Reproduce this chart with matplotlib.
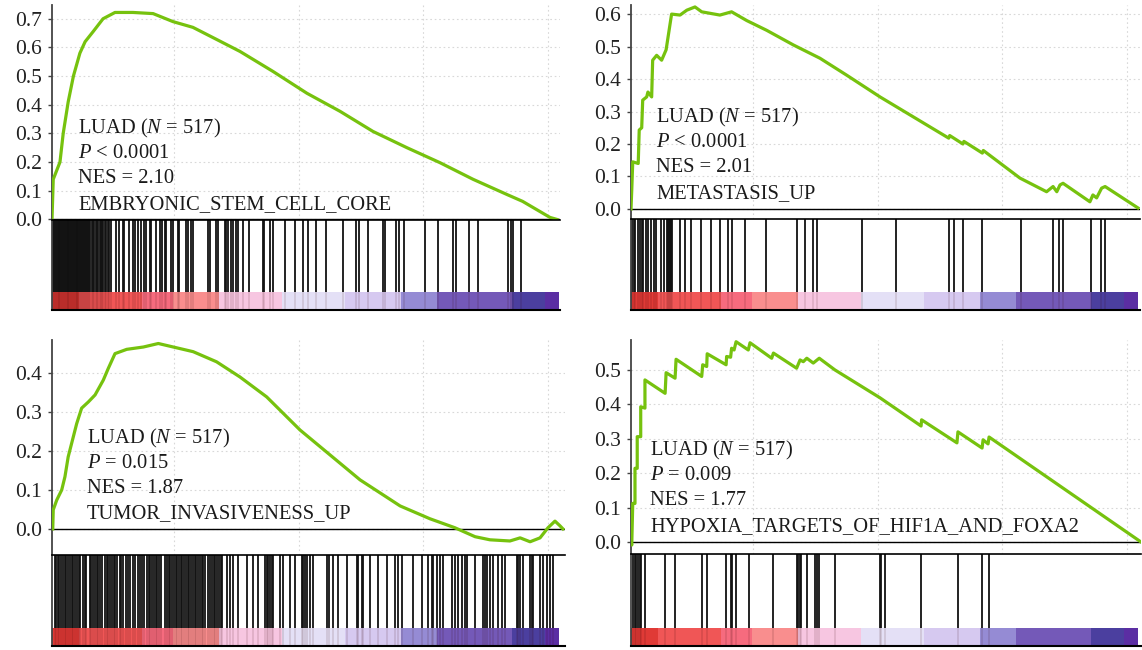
import matplotlib
matplotlib.use("Agg")
import matplotlib.pyplot as plt

W, H = 1142, 650

plt.rcParams["font.family"] = ["Liberation Serif", "DejaVu Serif"]
plt.rcParams["mathtext.fontset"] = "custom"
plt.rcParams["mathtext.rm"] = "Liberation Serif"
plt.rcParams["mathtext.it"] = "Liberation Serif:italic"

# ranked gene list position in thousands of genes
# ---- EMBRYONIC_STEM_CELL_CORE
esc_x = [0.10, 0.15, 0.42, 0.55, 0.75, 0.96, 1.22, 1.43, 1.75, 2.15, 2.63, 3.35, 4.16,
         4.96, 5.76, 6.73, 7.65, 8.98, 10.34, 11.67, 12.99, 14.36, 15.68, 17.01, 18.37,
         19.00, 20.10, 20.38]
esc_y = [0.0, 0.14, 0.20, 0.30, 0.41, 0.50, 0.58, 0.62, 0.655, 0.70, 0.722, 0.722, 0.718,
         0.69, 0.67, 0.627, 0.586, 0.516, 0.44, 0.377, 0.307, 0.25, 0.198, 0.14, 0.087,
         0.063, 0.007, 0.0]
esc_hits = [0.12, 0.15, 0.19, 0.22, 0.26, 0.29, 0.33, 0.37, 0.40, 0.44, 0.47, 0.51, 0.55,
            0.58, 0.62, 0.65, 0.69, 0.73, 0.76, 0.80, 0.84, 0.87, 0.91, 0.94, 0.98, 1.02,
            1.05, 1.09, 1.12, 1.16, 1.20, 1.23, 1.27, 1.31, 1.34, 1.38, 1.41,
            1.46, 1.50, 1.56, 1.60, 1.64, 1.71, 1.75, 1.79, 1.87, 1.91, 1.96, 2.01, 2.06,
            2.11, 2.16, 2.23, 2.28, 2.33, 2.38,
            2.48, 2.68, 2.81, 2.95, 3.01, 3.21, 3.35, 3.45, 3.55, 3.68, 3.78, 3.88, 4.02,
            4.08, 4.26, 4.42, 4.52, 4.62, 4.69, 4.89, 4.95, 5.15, 5.22, 5.49, 5.56, 5.69,
            5.76, 6.36, 6.43, 6.69, 6.76, 7.03, 7.10, 7.16, 7.30, 7.36, 7.50, 7.56, 7.76,
            8.03, 8.57, 8.63, 8.84, 8.97, 9.44, 9.84, 10.17, 10.37, 10.71, 11.11, 11.78,
            12.32, 12.42, 12.78, 13.39, 13.49, 13.92, 14.03, 14.22, 15.06, 15.60, 16.20,
            16.33, 16.84, 17.20, 18.41, 18.54, 18.61, 18.94]

# ---- METASTASIS_UP
met_x = [0.10, 0.13, 0.17, 0.39, 0.43, 0.53, 0.57, 0.73, 0.78, 0.93, 0.97, 1.13, 1.33,
         1.51, 1.73, 2.07, 2.34, 2.67, 2.94, 3.67, 4.14, 4.75, 5.55, 6.62, 7.69, 8.76,
         10.10, 12.86, 12.90, 13.43, 13.47, 14.21, 14.25, 15.72, 16.79, 17.05, 17.20,
         17.33, 17.45, 18.53, 18.65, 18.80, 19.00, 19.14, 20.46]
met_y = [0.0, 0.058, 0.145, 0.14, 0.243, 0.25, 0.335, 0.345, 0.36, 0.345, 0.458, 0.473,
         0.458, 0.49, 0.60, 0.597, 0.612, 0.622, 0.607, 0.597, 0.607, 0.58, 0.55, 0.505,
         0.464, 0.412, 0.345, 0.218, 0.226, 0.200, 0.208, 0.172, 0.180, 0.095, 0.053,
         0.069, 0.053, 0.074, 0.079, 0.022, 0.043, 0.034, 0.064, 0.069, 0.003]
met_hits = [0.15, 0.22, 0.28, 0.38, 0.45, 0.54, 0.60, 0.72, 0.80, 0.92, 1.02, 1.12, 1.32,
            1.43, 1.55, 1.59, 1.63, 1.67, 1.71, 1.76, 2.05, 2.28, 2.52, 2.90, 3.33, 3.66,
            4.00, 4.16, 4.69, 5.54, 6.77, 7.08, 7.41, 7.58, 9.39, 10.73, 12.86, 13.07,
            13.43, 14.21, 15.78, 17.05, 17.29, 17.45, 18.56, 18.96, 19.12]

# ---- TUMOR_INVASIVENESS_UP
tum_x = [0.13, 0.15, 0.29, 0.49, 0.62, 0.75, 0.89, 1.09, 1.29, 1.56, 1.83, 2.16, 2.36,
         2.63, 3.10, 3.77, 4.37, 4.97, 5.77, 6.71, 7.65, 8.72, 10.06, 12.47, 14.08,
         15.28, 16.28, 17.09, 17.69, 18.49, 18.90, 19.30, 19.70, 20.02, 20.30, 20.50,
         20.62]
tum_y = [0.0, 0.049, 0.074, 0.10, 0.134, 0.185, 0.22, 0.27, 0.31, 0.326, 0.344, 0.382,
         0.412, 0.45, 0.461, 0.467, 0.476, 0.467, 0.455, 0.429, 0.39, 0.339, 0.254, 0.126,
         0.059, 0.026, 0.003, -0.02, -0.028, -0.031, -0.023, -0.033, -0.023, 0.003, 0.02,
         0.008, 0.0]
tum_hits = [0.22, 0.26, 0.33, 0.40, 0.47, 0.54, 0.61, 0.68, 0.75, 0.82, 0.89, 0.96, 1.03,
            1.10, 1.17, 1.24, 1.34, 1.41, 1.48, 1.61, 1.68, 1.75, 1.82, 1.89, 1.96, 2.03,
            2.10, 2.22, 2.29, 2.36, 2.43, 2.50, 2.57, 2.64, 2.70, 2.82, 2.89, 2.96, 3.09,
            3.16, 3.23, 3.36, 3.43, 3.57, 3.64, 3.71, 3.78, 3.91, 3.98, 4.05, 4.12, 4.19,
            4.26, 4.33, 4.40, 4.47, 4.64, 4.71, 4.78, 4.85, 4.92, 4.99, 5.06, 5.13, 5.20,
            5.27, 5.34, 5.41, 5.48, 5.55, 5.62, 5.69, 5.76, 5.83, 5.90, 5.97, 6.04, 6.11,
            6.18, 6.25, 6.38, 6.45, 6.52, 6.59, 6.66, 6.73, 6.80, 6.87, 6.94,
            7.12, 7.25, 7.36, 7.58, 7.92, 8.16, 8.39, 8.65, 8.72, 8.79, 8.86, 8.92, 8.99,
            9.26, 9.39, 9.66, 9.86, 10.13, 10.19, 10.26, 10.33, 10.46, 10.60, 11.13, 11.24,
            11.40, 11.60, 11.93, 12.34, 12.40, 12.54, 12.60, 12.87, 13.21, 13.54, 13.88,
            14.01, 14.14, 14.61, 14.95, 15.21, 15.35, 15.41, 15.55, 15.68, 15.82, 16.15,
            16.29, 16.42, 16.55, 16.69, 16.75, 17.09, 17.42, 17.49, 17.56, 17.69, 17.82,
            18.03, 18.16, 18.29, 18.76, 18.83, 18.90, 19.03, 19.30, 19.36, 19.43, 19.70,
            19.83, 19.97, 20.10, 20.23]

# ---- HYPOXIA_TARGETS_OF_HIF1A_AND_FOXA2
hyp_x = [0.10, 0.13, 0.17, 0.26, 0.26, 0.35, 0.35, 0.49, 0.49, 0.66, 0.66, 1.47, 1.51,
         1.87, 1.91, 2.94, 2.98, 3.14, 3.16, 3.92, 3.94, 4.10, 4.14, 4.24, 4.32, 4.81,
         4.88, 5.75, 5.82, 6.75, 6.89, 7.02, 7.16, 7.42, 7.66, 8.29, 10.10, 11.75, 11.77,
         13.19, 13.23, 14.20, 14.24, 14.44, 14.48, 20.58]
hyp_y = [0.0, -0.009, 0.112, 0.112, 0.214, 0.214, 0.306, 0.306, 0.393, 0.389, 0.471,
         0.432, 0.492, 0.476, 0.531, 0.481, 0.515, 0.51, 0.547, 0.515, 0.539, 0.537, 0.563,
         0.558, 0.582, 0.558, 0.579, 0.534, 0.549, 0.505, 0.529, 0.524, 0.534, 0.52,
         0.534, 0.50, 0.419, 0.337, 0.355, 0.288, 0.32, 0.273, 0.297, 0.285, 0.305, 0.0]
hyp_hits = [0.18, 0.25, 0.31, 0.38, 0.45, 0.52, 0.65, 1.48, 1.88, 2.95, 3.17, 3.93, 4.10,
            4.16, 4.33, 4.85, 5.80, 6.77, 6.82, 6.87, 6.94, 7.18, 7.50, 7.57, 7.64, 8.31,
            10.09, 10.13, 10.29, 11.76, 13.22, 14.20, 14.46]

# ranking metric colour blocks (shared by all panels)
block_edges = [0.10, 1.18, 3.71, 4.96, 6.81, 9.34, 11.87, 14.12, 15.56, 18.57, 19.90, 20.46]
block_colors = ["#e03a36", "#f05656", "#f66b7e", "#f98e8e", "#f7c6e1", "#e4e0f6",
                "#d6c9f0", "#958bd4", "#7459b8", "#4b3f9f", "#5b2ea3"]

LINE_GREEN = "#76c20e"


def px_rect(left, right, top, bottom):
    return [left / W, 1 - bottom / H, (right - left) / W, (bottom - top) / H]


def draw_panel(fig, box, x, y, hits, ylim, yticks, labels, text_xy):
    left, right, top, mid, bottom = box
    xmax = 0.1 + (right - left) / 24.9

    ax = fig.add_axes(px_rect(left, right, top, mid))
    ax.plot(x, y, color=LINE_GREEN, lw=2.3, solid_joinstyle="round", zorder=3)
    ax.axhline(0, color="black", lw=1.0, zorder=2)
    ax.set_xlim(0.1, xmax)
    ax.set_ylim(*ylim)
    ax.set_yticks(yticks)
    ax.set_yticklabels([f"{t:.1f}" for t in yticks])
    ax.set_xticks([5, 10, 15, 20])
    ax.tick_params(axis="x", length=0, labelbottom=False)
    ax.tick_params(axis="y", length=3, width=1, color="#444", pad=4,
                   labelsize=15.5, labelcolor="#222")
    ax.grid(True, ls=(0, (1.5, 2.5)), color="#d8d8d8", lw=0.8)
    for s in ["top", "right", "bottom"]:
        ax.spines[s].set_visible(False)
    ax.spines["left"].set_color("#444")
    ax.spines["left"].set_linewidth(1.3)

    hx = fig.add_axes(px_rect(left, right, mid, bottom))
    hx.set_xlim(0.1, xmax)
    hx.set_ylim(0, 1)
    band = 0.2
    for lo, hi, c in zip(block_edges[:-1], block_edges[1:], block_colors):
        hx.axvspan(lo, hi, ymin=0, ymax=band, color=c, lw=0)
    hx.vlines(hits, band, 1, color="#111111", lw=1.3)
    hx.vlines(hits, 0, band, color="#300000", lw=1.3, alpha=0.12)
    hx.set_xticks([])
    hx.set_yticks([])
    hx.spines["right"].set_visible(False)
    hx.spines["top"].set_linewidth(1.2)
    hx.spines["bottom"].set_linewidth(1.5)
    hx.spines["left"].set_color("#444")
    hx.spines["left"].set_linewidth(1.3)

    tx, baselines = text_xy
    for lab, by in zip(labels, baselines):
        fig.text(tx / W, 1 - by / H, lab, fontsize=14.8, color="#1a1a1a",
                 ha="left", va="baseline")


fig = plt.figure(figsize=(W / 100, H / 100), dpi=100)

draw_panel(fig, (52, 560, 5, 220, 310), esc_x, esc_y, esc_hits,
           (-0.002, 0.748), [0.0, 0.1, 0.2, 0.3, 0.4, 0.5, 0.6, 0.7],
           ["LUAD ($N$ = 517)", "$P$ < 0.0001", "NES = 2.10", "EMBRYONIC_STEM_CELL_CORE"],
           (78, [133, 158, 183, 209]))

draw_panel(fig, (631, 1140, 5, 219, 310), met_x, met_y, met_hits,
           (-0.031, 0.628), [0.0, 0.1, 0.2, 0.3, 0.4, 0.5, 0.6],
           ["LUAD ($N$ = 517)", "$P$ < 0.0001", "NES = 2.01", "METASTASIS_UP"],
           (656, [122, 147, 172, 198]))

draw_panel(fig, (52, 565, 340, 555, 646), tum_x, tum_y, tum_hits,
           (-0.067, 0.485), [0.0, 0.1, 0.2, 0.3, 0.4],
           ["LUAD ($N$ = 517)", "$P$ = 0.015", "NES = 1.87", "TUMOR_INVASIVENESS_UP"],
           (87, [443, 468, 493, 518]))

draw_panel(fig, (631, 1141, 340, 554, 646), hyp_x, hyp_y, hyp_hits,
           (-0.035, 0.587), [0.0, 0.1, 0.2, 0.3, 0.4, 0.5],
           ["LUAD ($N$ = 517)", "$P$ = 0.009", "NES = 1.77",
            "HYPOXIA_TARGETS_OF_HIF1A_AND_FOXA2"],
           (650, [455, 480, 505, 531]))

fig.savefig("out.png", dpi=100)
